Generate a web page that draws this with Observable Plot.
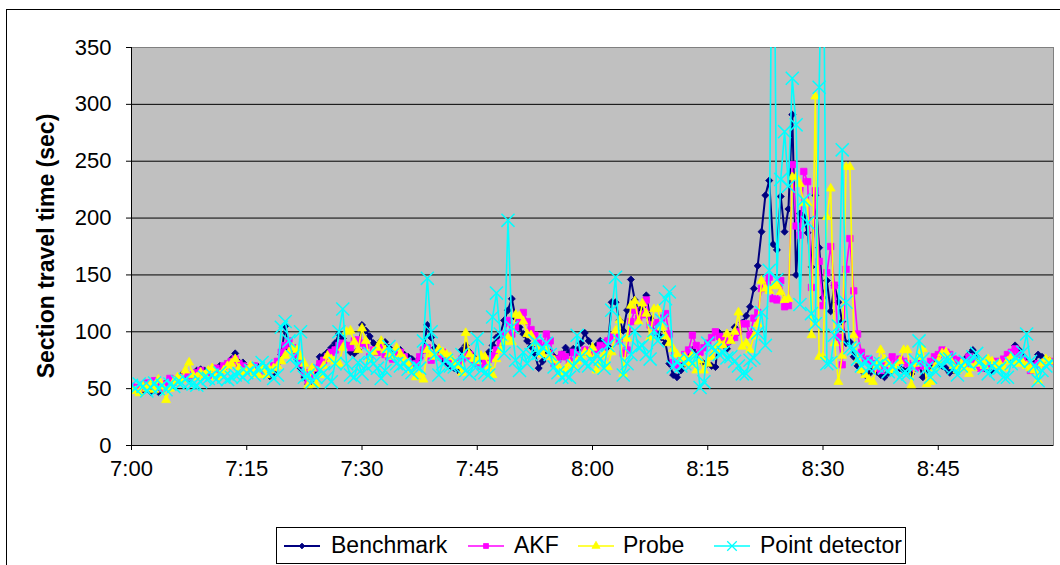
<!DOCTYPE html>
<html><head><meta charset="utf-8">
<script src="https://cdn.jsdelivr.net/npm/d3@7"></script>
<script src="https://cdn.jsdelivr.net/npm/@observablehq/plot@0.6"></script>
<style>
body{margin:0;background:#fff;width:1060px;height:565px;overflow:hidden;position:relative;font-family:"Liberation Sans",Arial,sans-serif;}
#frame{position:absolute;left:6px;top:9px;width:1100px;height:600px;border:1px solid #000;box-sizing:border-box}
#chart{position:absolute;left:0;top:0}
#ylabel{position:absolute;left:46px;top:246px;transform:translate(-50%,-50%) rotate(-90deg);font-weight:bold;font-size:23px;white-space:nowrap;color:#000}
#legend{position:absolute;left:276px;top:527px;width:630px;height:37px;border:1px solid #000;box-sizing:border-box;background:#fff}
.lg-s{position:absolute;top:8px}
.lg-t{position:absolute;top:0;line-height:35px;font-size:23px;color:#000;white-space:nowrap}
</style></head>
<body>
<div id="frame"></div>
<div id="chart"></div>
<div id="ylabel">Section travel time (sec)</div>
<div id="legend"></div>
<script>
// ---- data: 30-second samples starting at 7:00 ----
const startLabel = "7:00";
const stepMinutes = 0.5;
const tickMinutes = [0, 15, 30, 45, 60, 75, 90, 105];
const tickLabels = ["7:00", "7:15", "7:30", "7:45", "8:00", "8:15", "8:30", "8:45"];
const seriesNames = ["Benchmark", "AKF", "Probe", "Point detector"];
const seriesColors = ["#000080", "#FF00FF", "#FFFF00", "#00FFFF"];

const benchmark = [
51,50,52,49,50,47,49,47,52,55,
53,56,58,62,60,58,62,66,67,66,
64,65,67,70,68,72,76,81,73,73,
68,70,66,69,70,65,61,64,72,80,
105,85,82,76,68,60,54,58,66,78,
79,82,86,90,98,94,88,82,81,84,
106,101,96,90,88,92,91,86,81,84,
84,80,78,76,72,77,84,106,95,86,
80,76,73,70,68,66,84,88,82,78,
74,72,76,82,88,95,98,110,119,129,
112,104,98,92,87,80,68,74,84,82,
78,76,80,86,82,85,84,90,99,92,
86,88,92,90,87,126,126,110,101,119,
146,128,118,122,132,112,100,98,95,90,
72,62,60,66,72,78,84,80,75,72,
72,70,69,99,94,85,92,104,100,108,
114,122,138,158,188,220,233,177,172,219,
188,208,291,150,204,201,187,157,220,174,
130,145,118,141,126,109,90,91,78,70,
66,62,63,68,65,62,60,64,66,70,
68,66,66,63,68,72,60,66,70,76,
72,70,68,64,66,70,73,76,80,84,
78,72,68,70,66,70,72,74,75,80,
88,84,79,74,68,72,80,78,72,75];

const akf = [
52,51,50,53,55,54,57,52,50,54,
59,56,58,60,63,60,62,64,66,63,
62,66,68,66,70,72,74,76,72,70,
66,68,70,66,68,64,66,70,74,82,
88,92,86,80,72,64,57,60,68,72,
75,78,82,84,88,90,88,86,92,93,
90,88,78,84,82,86,80,78,76,82,
82,78,74,70,72,78,84,86,75,80,
78,82,76,74,70,72,76,78,80,75,
72,70,74,76,79,84,90,98,110,98,
104,110,117,109,102,97,90,86,98,92,
72,76,80,78,74,82,80,78,84,82,
80,84,88,86,92,96,98,92,81,84,
109,119,112,115,128,106,100,108,112,116,
98,73,70,76,80,84,97,88,82,86,
90,95,100,96,95,91,94,95,100,107,
107,97,112,117,138,142,148,129,128,145,
122,123,247,193,185,241,232,139,224,162,
123,152,175,141,95,71,155,182,136,98,
82,75,76,72,68,66,70,74,78,72,
76,74,72,70,68,72,70,70,74,78,
80,84,82,80,76,75,74,72,78,76,
70,68,70,72,70,74,72,76,80,82,
85,80,76,72,66,70,72,72,74,74];

const probe = [
50,48,46,52,50,54,49,58,52,40,
50,56,60,58,66,73,62,60,64,62,
66,68,60,62,66,70,72,76,68,64,
66,70,64,62,68,62,66,68,70,74,
79,82,86,84,78,72,53,68,54,62,
70,79,76,74,72,86,100,101,91,84,
103,92,76,82,86,92,84,80,78,86,
80,76,72,66,60,62,58,84,80,78,
85,82,80,78,72,70,64,99,80,76,
74,79,78,70,62,76,84,91,95,91,
115,114,109,98,97,90,85,80,85,78,
75,70,63,67,72,70,74,78,82,80,
86,66,72,80,69,82,101,110,63,94,
123,127,109,125,116,95,120,120,104,96,
90,85,80,76,78,72,80,66,75,66,
72,78,84,90,88,98,92,100,117,87,
90,84,96,107,145,138,136,140,141,135,
128,129,236,236,230,213,213,97,307,78,
78,201,226,90,56,79,245,245,97,75,
66,62,58,56,70,84,76,72,66,70,
74,84,84,53,72,78,85,54,56,68,
74,81,82,76,70,66,72,68,63,68,
72,74,70,76,74,70,72,68,74,78,
74,72,73,70,68,66,57,72,76,74];

const pointDetector = [
53,50,54,52,48,51,55,50,53,49,
54,52,56,55,58,55,54,53,56,60,
59,62,58,64,60,58,60,62,63,60,
64,66,62,68,73,70,64,59,62,104,
109,92,78,70,100,60,62,56,60,66,
64,60,56,72,100,120,72,62,60,73,
63,70,81,72,68,59,66,87,80,72,
70,72,67,64,70,68,92,147,100,80,
62,72,75,70,69,72,80,66,63,70,
94,66,64,62,113,134,98,81,198,104,
75,66,82,72,80,92,81,86,90,80,
69,64,60,62,60,70,97,78,72,70,
74,80,76,68,88,119,148,92,62,72,
80,101,86,88,80,76,101,92,110,129,
135,69,74,70,72,76,72,80,51,56,
90,86,84,80,82,77,78,74,70,63,
63,75,77,99,117,88,154,600,146,234,
276,228,323,282,124,216,196,116,107,315,
500,72,73,97,105,260,126,86,85,76,
70,74,68,72,70,72,68,65,70,66,
60,64,63,70,75,92,76,68,60,66,
72,70,76,76,68,62,70,74,72,78,
81,74,68,63,70,66,68,60,60,72,
78,74,82,98,74,70,57,66,70,72];

const yTicks = [0, 50, 100, 150, 200, 250, 300, 350];
const gridValues = [50, 100, 150, 200, 250, 300];

// ---- build ----
const valueLists = [benchmark, akf, probe, pointDetector];
const rows = valueLists.map((vals, s) => vals.map((v, i) => ({series: seriesNames[s], t: i * stepMinutes, v})));

const symbols = [d3.symbolDiamond2, "square", "triangle", "times"];
const radii = [3.2, 3.6, 3.3, 6];
const legendRadii = [2.6, 2.8, 3.0, 4.4];

const marks = [
  Plot.frame({fill: "#C0C0C0", stroke: "#808080"}),
  Plot.ruleY(gridValues, {stroke: "#000", strokeWidth: 1}),
];
rows.forEach((data, s) => {
  marks.push(Plot.line(data, {x: "t", y: "v", stroke: seriesColors[s], strokeWidth: s === 0 ? 2 : 1.6, clip: true}));
  if (s === 3) {
    marks.push(Plot.dot(data, {x: "t", y: "v", symbol: symbols[s], r: radii[s], stroke: seriesColors[s], strokeWidth: 1.5, fill: "none", clip: true}));
  } else {
    marks.push(Plot.dot(data, {x: "t", y: "v", symbol: symbols[s], r: radii[s], fill: seriesColors[s], stroke: seriesColors[s], strokeWidth: 0.8, clip: true}));
  }
});
marks.push(
  Plot.ruleY([0], {stroke: "#000", strokeWidth: 1}),
  Plot.ruleX([0], {stroke: "#000", strokeWidth: 1}),
  Plot.axisX({ticks: tickMinutes, tickFormat: d => tickLabels[tickMinutes.indexOf(d)], tickSize: 5, tickPadding: 10, label: null}),
  Plot.axisY({ticks: yTicks, tickSize: 5, tickPadding: 15, label: null})
);

const chart = Plot.plot({
  width: 1060,
  height: 500,
  marginLeft: 131,
  marginRight: 7,
  marginTop: 47,
  marginBottom: 55,
  x: {domain: [0, 120]},
  y: {domain: [0, 350]},
  style: {fontFamily: '"Liberation Sans", Arial, sans-serif', fontSize: "22px", color: "#000", background: "transparent", overflow: "visible"},
  marks
});
document.getElementById("chart").appendChild(chart);

// ---- legend ----
const legend = document.getElementById("legend");
const sampleLefts = [6, 190, 300, 436];
const textLefts = [54, 237, 346, 483];
seriesNames.forEach((name, s) => {
  const svg = d3.create("svg").attr("class", "lg-s").attr("width", 38).attr("height", 20)
    .style("left", sampleLefts[s] + "px");
  svg.append("line").attr("x1", 1).attr("x2", 37).attr("y1", 10).attr("y2", 10)
    .attr("stroke", seriesColors[s]).attr("stroke-width", s === 0 ? 2 : 1.6);
  const symType = s === 0 ? d3.symbolDiamond2 : s === 1 ? d3.symbolSquare : s === 2 ? d3.symbolTriangle : d3.symbolTimes;
  const size = Math.PI * legendRadii[s] * legendRadii[s];
  const p = svg.append("path").attr("transform", "translate(19,10)").attr("d", d3.symbol(symType, size)());
  if (s === 3) p.attr("fill", "none").attr("stroke", seriesColors[s]).attr("stroke-width", 1.3);
  else p.attr("fill", seriesColors[s]).attr("stroke", seriesColors[s]).attr("stroke-width", 0.8);
  legend.appendChild(svg.node());
  const t = document.createElement("div");
  t.className = "lg-t";
  t.style.left = textLefts[s] + "px";
  t.textContent = name;
  legend.appendChild(t);
});
</script>
</body></html>
